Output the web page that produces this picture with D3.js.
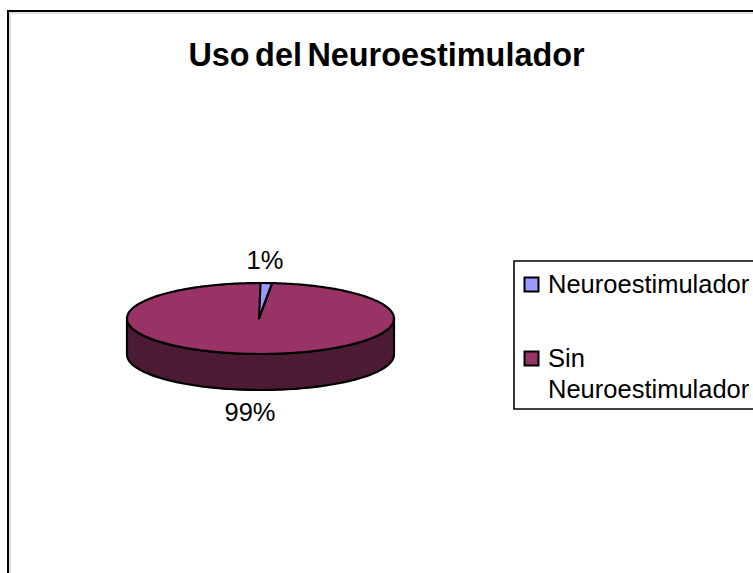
<!DOCTYPE html>
<html><head><meta charset="utf-8">
<script src="https://cdn.jsdelivr.net/npm/d3@7"></script>
<style>html,body{margin:0;padding:0;background:#fff}svg{display:block}text{font-family:"Liberation Sans",Arial,sans-serif;fill:#000}</style>
</head><body><div id="chart"></div>
<script>
const title = "Uso del Neuroestimulador";
const categories = ["Neuroestimulador", "Sin Neuroestimulador"];
const values = [1.4, 98.6];
const colors = ["#9999ff", "#993366"];
const sideColor = "#4d1a33";
const W = 753, H = 573;
const svg = d3.select("#chart").append("svg").attr("width", W).attr("height", H);

// chart frame
svg.append("path").attr("d", `M9 ${H+3}V12H${W+3}`).attr("fill","none").attr("stroke","#c0c0c0").attr("stroke-width",1).attr("transform","translate(1,1)");
svg.append("path").attr("d", `M8 ${H+3}V11H${W+3}`).attr("fill","none").attr("stroke","#000").attr("stroke-width",2);

svg.append("text").attr("x",386.5).attr("y",66).attr("text-anchor","middle")
  .attr("font-size",32.4).attr("word-spacing",-3.5).attr("font-weight","bold").text(title);

// pie
const cx = 260.5, cy = 318.5, rx = 133.5, ry = 35.5, depth = 36, apexX = -1.5;
const total = d3.sum(values);
const pie = d3.pie().sort(null).value(d => d)(values);
const X = a => cx + rx * Math.sin(a), Y = a => cy - ry * Math.cos(a);
const aStart = Math.PI/2, aEnd = 3*Math.PI/2;
const angles = d3.range(0, 121).map(i => aStart + (aEnd-aStart)*i/120);
const side = d3.area().x(X).y0(Y).y1(a => Y(a)+depth);
svg.append("path").attr("d", side(angles)).attr("fill",sideColor).attr("stroke","#000").attr("stroke-width",2.2).attr("stroke-linejoin","round");

const line = d3.line().x(d=>d[0]).y(d=>d[1]);
svg.selectAll("path.slice").data(pie).join("path").attr("class","slice")
  .attr("d", d => {
    const n = Math.max(2, Math.ceil((d.endAngle-d.startAngle)/0.02));
    const pts = d3.range(n+1).map(i => { const a = d.startAngle+(d.endAngle-d.startAngle)*i/n; return [X(a)+(d.index===0?apexX*(1-i/n):0), Y(a)]; });
    return line([[cx+apexX,cy], ...pts]) + "Z";
  })
  .attr("fill",(d,i)=>colors[i]).attr("stroke","#000").attr("stroke-width",2.2).attr("stroke-linejoin","round");

// data labels
const pct = d3.format(".0%");
const labelPos = [[265,269],[250,421]];
svg.selectAll("text.lab").data(values).join("text").attr("class","lab")
  .attr("x",(d,i)=>labelPos[i][0]).attr("y",(d,i)=>labelPos[i][1]).attr("text-anchor","middle")
  .attr("font-size",25.5).text(d=>pct(d/total));

// legend
svg.append("path").attr("d",`M${W+3} 261H514V409H${W+3}`).attr("fill","none").attr("stroke","#000").attr("stroke-width",1.6);
const legendY = [284.5, 358.5];
svg.selectAll("rect.key").data(categories).join("rect").attr("class","key")
  .attr("x",524.5).attr("y",(d,i)=>legendY[i]-7).attr("width",14).attr("height",14)
  .attr("fill",(d,i)=>colors[i]).attr("stroke","#000").attr("stroke-width",2);
svg.append("text").attr("x",548).attr("y",293).attr("font-size",25.5).text(categories[0]);
const parts = categories[1].split(" ");
svg.append("text").attr("x",548).attr("y",367).attr("font-size",25.5).text(parts[0]);
svg.append("text").attr("x",548).attr("y",398).attr("font-size",25.5).text(parts[1]);
</script></body></html>
